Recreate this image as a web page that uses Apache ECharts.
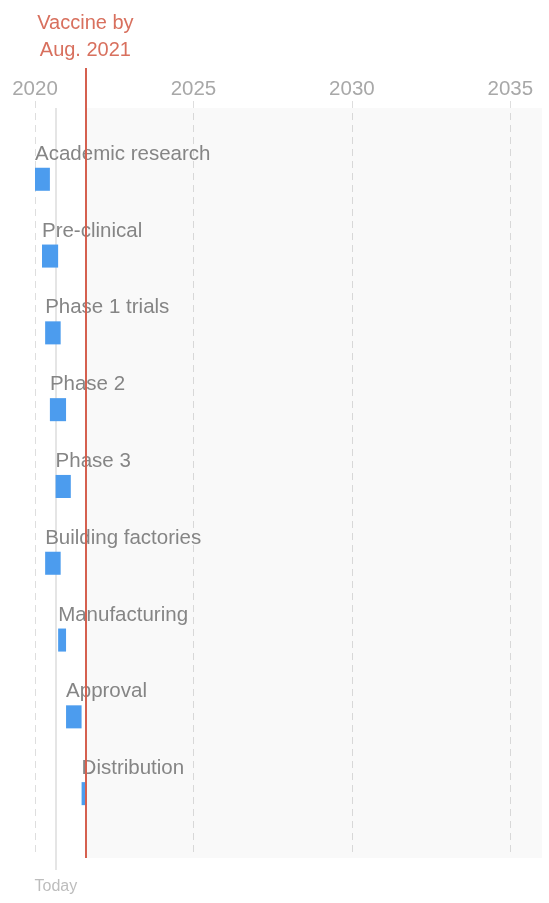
<!DOCTYPE html>
<html>
<head>
<meta charset="utf-8">
<script src="https://cdn.jsdelivr.net/npm/echarts@6/dist/echarts.min.js"></script>
<style>
html,body{margin:0;padding:0;background:#fff;}
#chart{width:549px;height:903px;}
</style>
</head>
<body>
<div id="chart"></div>
<script>
// ---- data ----
const stages = ["Academic research","Pre-clinical","Phase 1 trials","Phase 2","Phase 3","Building factories","Manufacturing","Approval","Distribution"];
const startYear = [2020.00, 2020.22, 2020.32, 2020.47, 2020.65, 2020.32, 2020.73, 2020.98, 2021.47];
const endYear   = [2020.47, 2020.73, 2020.81, 2020.98, 2021.13, 2020.81, 2020.98, 2021.47, 2021.58];
const xTickLabels = [2020, 2025, 2030, 2035];
const todayYear = 2020.66;
const vaccineYear = 2021.59;
const vaccineLabel = "Vaccine by\nAug. 2021";
const todayLabel = "Today";

// ---- style ----
const FONT = '"Liberation Sans", Arial, sans-serif';
const axisMin = 2020, axisMax = 2036;
const barColor = '#4c9cee';
const labelColor = '#858585';
const redLine = '#d5604f';
const redText = '#d8705e';

const chart = echarts.init(document.getElementById('chart'), null, {renderer:'canvas'});

const hiddenX = (gi) => ({type:'value', gridIndex:gi, min:axisMin, max:axisMax, interval:5, show:false});
const hiddenY = (gi) => ({type:'value', gridIndex:gi, min:0, max:1, show:false});

const option = {
  backgroundColor:'#fff',
  animation:false,
  grid:[
    {left:35, right:7, top:101, bottom:47},   // axis + dashed lines
    {left:35, right:7, top:108, bottom:45},   // bars + shaded area
    {left:35, right:7, top:68,  bottom:45},   // vaccine line
    {left:35, right:7, top:108, bottom:33}    // today line
  ],
  xAxis:[
    {type:'value', gridIndex:0, position:'top', min:axisMin, max:axisMax, interval:5,
     axisLine:{show:false}, axisTick:{show:false},
     axisLabel:{color:'#a8a8a8', fontSize:20.5, fontFamily:FONT, margin:1,
       formatter:(v)=> xTickLabels.indexOf(v) >= 0 ? String(v) : ''},
     splitLine:{show:true, showMaxLine:false, lineStyle:{color:'#dedede', type:[7,5], width:1}}},
    hiddenX(1), hiddenX(2), hiddenX(3)
  ],
  yAxis:[
    hiddenY(0),
    {type:'value', gridIndex:1, inverse:true, min:-0.928, max:8.838, show:false},
    hiddenY(2), hiddenY(3)
  ],
  series:[
    {type:'line', xAxisIndex:3, yAxisIndex:3, data:[], silent:true, z:1,
     markLine:{silent:true, z:1, symbol:['none','none'], animation:false,
       lineStyle:{color:'#dcdcdc', width:1.5, type:'solid'},
       label:{show:true, position:'start', formatter:todayLabel, color:'#bdbdbd', fontSize:16, fontFamily:FONT, distance:9},
       data:[{xAxis:todayYear}]}},
    {type:'custom', xAxisIndex:1, yAxisIndex:1, z:3,
     encode:{x:[0,1], y:2},
     data: stages.map((s,i)=>[startYear[i], endYear[i], i]),
     markArea:{silent:true, z:0, itemStyle:{color:'rgba(0,0,0,0.024)'},
       data:[[{xAxis:vaccineYear},{xAxis:axisMax}]]},
     renderItem:function(params, api){
       const i = api.value(2);
       const s = api.coord([api.value(0), i]);
       const e = api.coord([api.value(1), i]);
       const h = api.size([0, 0.3])[1];
       const top = s[1] - h/2;
       return {type:'group', children:[
         {type:'rect', shape:{x:s[0], y:top, width:Math.max(1, e[0]-s[0]), height:h}, style:{fill:barColor}},
         {type:'text', style:{text:stages[i], x:s[0], y:top-3, verticalAlign:'bottom', align:'left',
           fill:labelColor, fontSize:20.5, fontFamily:FONT}}
       ]};
     }},
    {type:'line', xAxisIndex:2, yAxisIndex:2, data:[], silent:true, z:5,
     markLine:{silent:true, z:6, symbol:['none','none'], animation:false,
       lineStyle:{color:redLine, width:2, type:'solid'},
       label:{show:true, position:'end', formatter:vaccineLabel, color:redText, fontSize:20, lineHeight:27, fontFamily:FONT, distance:4},
       data:[{xAxis:vaccineYear}]}}
  ]
};
chart.setOption(option);
</script>
</body>
</html>
